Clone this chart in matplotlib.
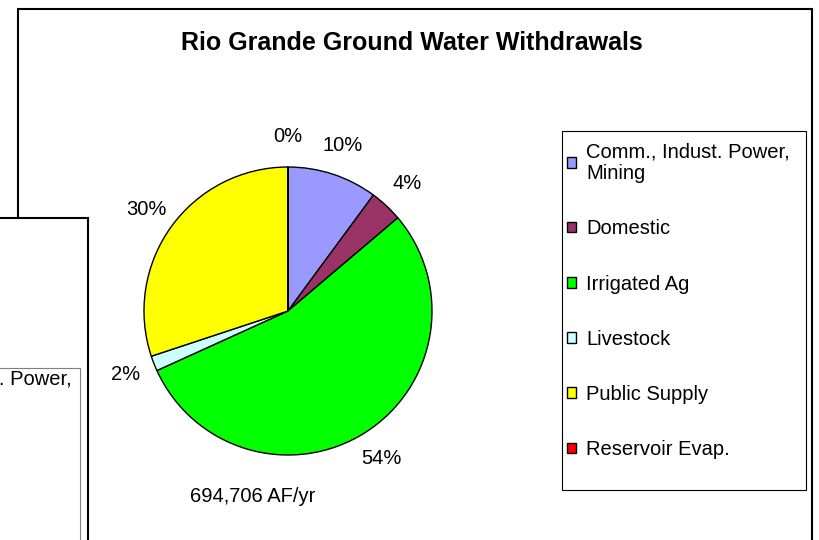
import matplotlib
matplotlib.use("Agg")
import matplotlib.pyplot as plt
from matplotlib.patches import Rectangle

plt.rcParams['font.family'] = ['Liberation Sans', 'DejaVu Sans']

# data (AF/yr)
categories = ['Comm., Indust. Power,\nMining', 'Domestic', 'Irrigated Ag',
              'Livestock', 'Public Supply', 'Reservoir Evap.']
withdrawals = [70200, 25700, 378000, 11800, 208806, 200]
colors = ['#9999FF', '#993366', '#00FF00', '#CCFFFF', '#FFFF00', '#FF0000']
title = 'Rio Grande Ground Water Withdrawals'
total_label = '694,706 AF/yr'

W, H = 819, 540
fig = plt.figure(figsize=(W / 100, H / 100), dpi=100)


# helpers: pixel (top-left origin) -> figure fraction
def fx(x):
    return x / W


def fy(y):
    return 1 - y / H


# main chart frame
fig.add_artist(Rectangle((fx(18), fy(600)), fx(812) - fx(18), fy(9) - fy(600),
                         fill=False, edgecolor='black', linewidth=1.5, zorder=1))

fig.text(fx(412), fy(43), title, ha='center', va='center',
         fontsize=18, fontweight='bold')

# pie: centre (288, 311), radius 144 px
cx, cy, r = 288, 311, 144
ax = fig.add_axes([fx(cx - r), fy(cy + r), 2 * r / W, 2 * r / H])
wedges, texts, autotexts = ax.pie(
    withdrawals, colors=colors, startangle=90, counterclock=False,
    autopct='%1.0f%%', pctdistance=1.21,
    wedgeprops=dict(edgecolor='black', linewidth=1.0),
    textprops=dict(fontsize=14.5))
ax.set_aspect('equal')
ax.set_xlim(-1, 1)
ax.set_ylim(-1, 1)
ax.axis('off')

fig.text(fx(253), fy(497), total_label, ha='center', va='center', fontsize=14.5)

# legend (frame drawn separately to match the box)
fig.add_artist(Rectangle((fx(562), fy(490)), fx(806) - fx(562), fy(131) - fy(490),
                         fill=False, edgecolor='black', linewidth=0.8, zorder=4))
leg = fig.legend(wedges, categories, loc='upper left',
                 bbox_to_anchor=(fx(567), fy(142)), frameon=False,
                 fontsize=14.5, borderpad=0, borderaxespad=0,
                 handlelength=0.45, handleheight=0.45, handletextpad=0.5,
                 labelspacing=1.8)
for h in leg.legend_handles:
    h.set_edgecolor('black')
    h.set_linewidth(1.0)

# second chart sitting on top at the lower left
fig.add_artist(Rectangle((fx(-20), fy(600)), fx(88) - fx(-20), fy(218) - fy(600),
                         facecolor='white', edgecolor='black', linewidth=1.5, zorder=6))
fig.add_artist(Rectangle((fx(-300), fy(600)), fx(80) - fx(-300), fy(368) - fy(600),
                         fill=False, edgecolor='#808080', linewidth=0.8, zorder=7))
fig.text(fx(72), fy(379), 'Comm., Indust. Power,', ha='right', va='center',
         fontsize=14.5, zorder=8)

fig.savefig('out.png', dpi=100)
